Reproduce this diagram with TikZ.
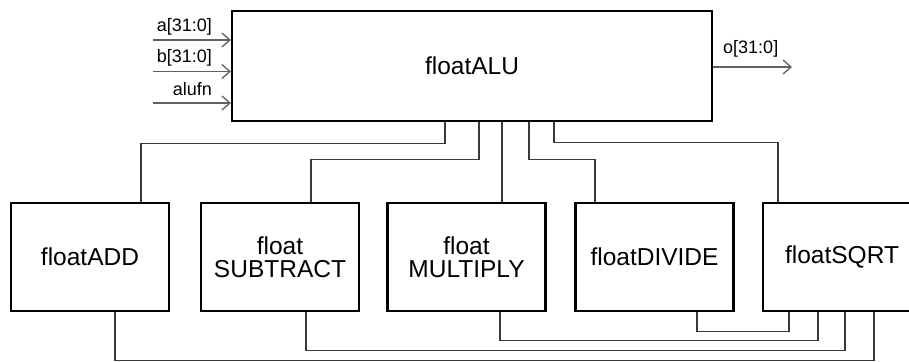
\documentclass[tikz,border=0pt]{standalone}
\usepackage{fontspec}
\setmainfont{Liberation Sans}
\usetikzlibrary{arrows.meta}
\begin{document}
\begin{tikzpicture}[x=1pt,y=-1pt,
  block/.style={draw=black,line width=2.2pt,fill=white,inner sep=0pt,
    align=center,font=\fontsize{24.5}{23}\selectfont},
  unit/.style={block,minimum width=158pt,minimum height=108pt},
  wire/.style={draw=black!78,line width=1.2pt},
  port/.style={draw=black!62,line width=1.5pt,-{Straight Barb[length=8pt,width=14pt,line width=1.3pt]}},
  pinlabel/.style={inner sep=0pt,font=\fontsize{18}{18}\selectfont}]
\clip (0,0) rectangle (909,361);
\fill[white] (0,0) rectangle (909,361);

% top-level ALU
\node[block,minimum width=480pt,minimum height=110pt] (alu) at (472,66) {floatALU};

% functional units
\node[unit] (add) at (90,257)    {floatADD};
\node[unit] (sub) at (280,257)   {float\\SUBTRACT};
\node[unit] (mul) at (466.5,257) {float\\MULTIPLY};
\node[unit] (div) at (654.5,257) {floatDIVIDE};
\node[unit] (sqr) at (842,257)   {floatSQRT};

% inputs and output
\coordinate (ina) at (153,40);
\coordinate (inb) at (153,71.5);
\coordinate (inf) at (153,103);
\coordinate (outo) at (792,67);
\draw[port] (ina) -- (ina -| alu.west);
\draw[port] (inb) -- (inb -| alu.west);
\draw[port] (inf) -- (inf -| alu.west);
\draw[port] (outo -| alu.east) -- (outo);
\node[pinlabel,anchor=base east] (la) at (212,31.5) {a[31:0]};
\node[pinlabel,anchor=base east] (lb) at (212,63)   {b[31:0]};
\node[pinlabel,anchor=base east] (lf) at (212,95)   {alufn};
\node[pinlabel,anchor=base west] (lo) at (723,53)   {o[31:0]};

% ALU to units
\draw[wire] ([xshift=214pt]alu.south west) -- ++(0,21) -| ([xshift=131pt]add.north west);
\draw[wire] ([xshift=248pt]alu.south west) -- ++(0,37) -| ([xshift=111pt]sub.north west);
\draw[wire] ([xshift=271pt]alu.south west) -- ([xshift=115.5pt]mul.north west);
\draw[wire] ([xshift=298pt]alu.south west) -- ++(0,37) -| ([xshift=20.5pt]div.north west);
\draw[wire] ([xshift=323pt]alu.south west) -- ++(0,20) -| ([xshift=16pt]sqr.north west);

% units to square root
\draw[wire] ([xshift=105pt]add.south west) -- ++(0,48) -| ([xshift=112pt]sqr.south west);
\draw[wire] ([xshift=106pt]sub.south west) -- ++(0,38) -| ([xshift=83pt]sqr.south west);
\draw[wire] ([xshift=113.5pt]mul.south west) -- ++(0,28) -| ([xshift=56pt]sqr.south west);
\draw[wire] ([xshift=122.5pt]div.south west) -- ++(0,19) -| ([xshift=27pt]sqr.south west);
\end{tikzpicture}
\end{document}
